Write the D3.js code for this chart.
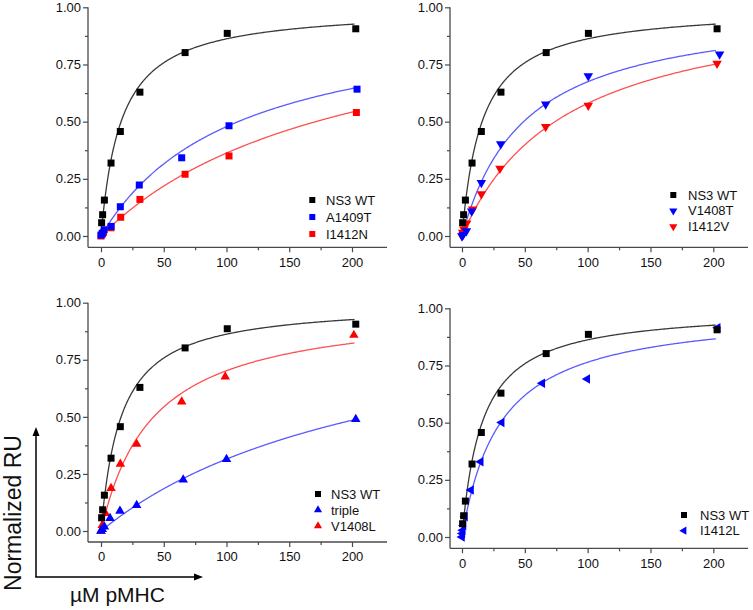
<!DOCTYPE html>
<html>
<head>
<meta charset="utf-8">
<script src="https://cdn.jsdelivr.net/npm/d3@7"></script>
<style>
  html, body { margin: 0; padding: 0; background: #fff; }
  svg { display: block; font-family: "Liberation Sans", Arial, Helvetica, sans-serif; }
</style>
</head>
<body>
<svg id="chart" width="753" height="610"></svg>
<script>
// ---------------- data ----------------
const xTicks = [0, 50, 100, 150, 200];
const xMinorTicks = [25, 75, 125, 175];
const yTicks = [0, 0.25, 0.5, 0.75, 1.0];
const yMinorTicks = [0.125, 0.375, 0.625, 0.875];

const wtX = [0.5, 1.3, 2.7, 8, 15.4, 31, 67, 100.6, 203];
const wtY = [0.058, 0.093, 0.157, 0.319, 0.457, 0.629, 0.802, 0.886, 0.906];

const a1409tX = [0, 1, 2.5, 8, 15.4, 30.5, 64.3, 102, 204];
const a1409tY = [0.004, 0.012, 0.027, 0.042, 0.128, 0.223, 0.342, 0.482, 0.642];

const i1412nX = [0, 1, 2, 8, 15.7, 31, 67, 102, 203.5];
const i1412nY = [0, 0.008, 0.016, 0.036, 0.082, 0.16, 0.27, 0.35, 0.54];

const v1408tX = [0, 1, 3.5, 7.7, 15.4, 30.8, 66.6, 100.5, 205];
const v1408tY = [0, 0.006, 0.022, 0.108, 0.233, 0.402, 0.576, 0.70, 0.795];

const i1412vX = [0, 0.5, 1.5, 3.7, 8.5, 15.4, 30.2, 66.6, 100.5, 203];
const i1412vY = [0, 0.015, 0.03, 0.056, 0.117, 0.184, 0.295, 0.478, 0.571, 0.754];

const tripleX = [0, 1, 2.7, 7.2, 15.1, 28.4, 65.5, 100, 203];
const tripleY = [0, 0.008, 0.019, 0.056, 0.088, 0.113, 0.224, 0.314, 0.489];

const v1408lX = [0, 1, 3.5, 8, 15.4, 28.4, 64.3, 99, 201.5];
const v1408lY = [0, 0.025, 0.078, 0.187, 0.293, 0.381, 0.566, 0.676, 0.858];

const i1412lX = [0, 0.3, 0.6, 1.2, 2.4, 7.2, 14.9, 31.6, 63.9, 99.7, 203.5];
const i1412lY = [0, 0.015, 0.03, 0.05, 0.089, 0.206, 0.329, 0.501, 0.672, 0.691, 0.915];

// one-site binding fits: [Bmax, Kd]
const wtFit = [1.0, 16];
const a1409tFit = [0.99, 107];
const i1412nFit = [1.07, 195];
const v1408tFit = [1.014, 50.4];
const i1412vFit = [1.061, 83];
const tripleFit = [1.055, 235];
const v1408lFit = [0.992, 41.3];
const i1412lFit = [0.998, 30.6];
const fitRange = [0, 202];

const xAxisTitle = "µM pMHC";
const yAxisTitle = "Normalized RU";

// ---------------- styles / layout ----------------
const COL = {
  black: { pt: "#000000", line: "#3a3a3a" },
  blue:  { pt: "#0000ff", line: "#5a5aff" },
  red:   { pt: "#ff0000", line: "#ff5050" }
};

function S(name, xs, ys, fit, color, shape) { return { name, xs, ys, fit, color, shape }; }

const panels = [
  { left: 88, x0: 101, x200: 352, right: 387, yTop: 7.3, y0: 236, bottom: 247.3,
    legend: { mx: 312.3, my: 200, dy: 17, tx: 326 },
    series: [S("NS3 WT", wtX, wtY, wtFit, "black", "square"),
             S("A1409T", a1409tX, a1409tY, a1409tFit, "blue", "square"),
             S("I1412N", i1412nX, i1412nY, i1412nFit, "red", "square")] },
  { left: 450, x0: 462, x200: 713.3, right: 748, yTop: 7.3, y0: 236, bottom: 247.3,
    legend: { mx: 673.3, my: 195, dy: 15.8, tx: 688 },
    series: [S("NS3 WT", wtX, wtY, wtFit, "black", "square"),
             S("V1408T", v1408tX, v1408tY, v1408tFit, "blue", "down"),
             S("I1412V", i1412vX, i1412vY, i1412vFit, "red", "down")] },
  { left: 88, x0: 101, x200: 352, right: 387, yTop: 302.7, y0: 531, bottom: 542,
    legend: { mx: 318, my: 494, dy: 16, tx: 331 },
    series: [S("NS3 WT", wtX, wtY, wtFit, "black", "square"),
             S("triple", tripleX, tripleY, tripleFit, "blue", "up"),
             S("V1408L", v1408lX, v1408lY, v1408lFit, "red", "up")] },
  { left: 450, x0: 462, x200: 713.3, right: 748, yTop: 308.3, y0: 537, bottom: 548.3,
    legend: { mx: 684, my: 515, dy: 15.7, tx: 700 },
    series: [S("NS3 WT", wtX, wtY, wtFit, "black", "square"),
             S("I1412L", i1412lX, i1412lY, i1412lFit, "blue", "left")] }
];

const svg = d3.select("#chart");
const AX = "#4a4a4a";

function markerPath(shape, r) {
  if (shape === "square") return d3.symbol(d3.symbolSquare, r * r)();
  return d3.symbol(d3.symbolTriangle, r * r * 0.8)();
}
function markerRot(shape) {
  return shape === "down" ? 180 : shape === "left" ? -90 : 0;
}

panels.forEach(p => {
  const g = svg.append("g");
  const x = d3.scaleLinear().domain([0, 200]).range([p.x0, p.x200]);
  const y = d3.scaleLinear().domain([0, 1]).range([p.y0, p.yTop]);

  // axis lines
  g.append("line").attr("x1", p.left).attr("x2", p.left).attr("y1", y(1)).attr("y2", p.bottom)
    .attr("stroke", AX).attr("stroke-width", 1.3);
  g.append("line").attr("x1", p.left).attr("x2", p.right).attr("y1", p.bottom).attr("y2", p.bottom)
    .attr("stroke", AX).attr("stroke-width", 1.3);

  // x axis
  const xa = g.append("g").attr("transform", `translate(0,${p.bottom})`)
    .call(d3.axisBottom(x).tickValues(xTicks).tickSize(5).tickSizeOuter(0).tickFormat(d3.format("d")));
  xa.select(".domain").remove();
  xa.selectAll("line").attr("stroke", AX).attr("stroke-width", 1.2);
  xa.selectAll("text").attr("fill", "#111").attr("font-size", 13).attr("y", 10).attr("dy", "0.71em")
    .attr("font-family", '"Liberation Sans", Arial, sans-serif');
  const xm = g.append("g").attr("transform", `translate(0,${p.bottom})`)
    .call(d3.axisBottom(x).tickValues(xMinorTicks).tickSize(3).tickSizeOuter(0).tickFormat(""));
  xm.select(".domain").remove();
  xm.selectAll("line").attr("stroke", AX).attr("stroke-width", 1.2);

  // y axis
  const ya = g.append("g").attr("transform", `translate(${p.left},0)`)
    .call(d3.axisLeft(y).tickValues(yTicks).tickSize(5).tickSizeOuter(0).tickFormat(d3.format(".2f")));
  ya.select(".domain").remove();
  ya.selectAll("line").attr("stroke", AX).attr("stroke-width", 1.2);
  ya.selectAll("text").attr("fill", "#111").attr("font-size", 13).attr("x", -7)
    .attr("font-family", '"Liberation Sans", Arial, sans-serif');
  const ym = g.append("g").attr("transform", `translate(${p.left},0)`)
    .call(d3.axisLeft(y).tickValues(yMinorTicks).tickSize(3).tickSizeOuter(0).tickFormat(""));
  ym.select(".domain").remove();
  ym.selectAll("line").attr("stroke", AX).attr("stroke-width", 1.2);

  // fit curves
  const line = d3.line().x(d => x(d[0])).y(d => y(d[1])).curve(d3.curveLinear);
  p.series.forEach(s => {
    const [bmax, kd] = s.fit;
    const pts = d3.range(0, 401).map(i => {
      const xv = fitRange[0] + (fitRange[1] - fitRange[0]) * Math.pow(i / 400, 2);
      return [xv, bmax * xv / (kd + xv)];
    });
    g.append("path").attr("d", line(pts)).attr("fill", "none")
      .attr("stroke", COL[s.color].line).attr("stroke-width", 1.3);
  });

  // points (WT drawn on top)
  p.series.slice().reverse().forEach(s => {
    g.append("g").selectAll("path").data(s.xs.map((v, i) => [v, s.ys[i]])).join("path")
      .attr("d", markerPath(s.shape, 7))
      .attr("transform", d => `translate(${x(d[0])},${y(d[1])}) rotate(${markerRot(s.shape)})`)
      .attr("fill", COL[s.color].pt);
  });

  // legend
  p.series.forEach((s, i) => {
    const ly = p.legend.my + i * p.legend.dy;
    g.append("path").attr("d", markerPath(s.shape, 6))
      .attr("transform", `translate(${p.legend.mx},${ly}) rotate(${markerRot(s.shape)})`)
      .attr("fill", COL[s.color].pt);
    g.append("text").attr("x", p.legend.tx).attr("y", ly).attr("dy", "0.36em")
      .attr("font-size", 13).attr("fill", "#111").text(s.name);
  });
});

// global axis arrows
const ag = svg.append("g");
ag.append("line").attr("x1", 36).attr("y1", 577).attr("x2", 36).attr("y2", 434)
  .attr("stroke", "#000").attr("stroke-width", 1.5);
ag.append("path").attr("d", "M36,427 L32.5,436 L39.5,436 Z").attr("fill", "#000");
ag.append("line").attr("x1", 35.25).attr("y1", 577).attr("x2", 196).attr("y2", 577)
  .attr("stroke", "#000").attr("stroke-width", 1.5);
ag.append("path").attr("d", "M203,577 L194,573.5 L194,580.5 Z").attr("fill", "#000");

svg.append("text").attr("transform", "translate(20.5,513) rotate(-90)")
  .attr("text-anchor", "middle").attr("font-size", 23).attr("fill", "#111").text(yAxisTitle);
svg.append("text").attr("x", 70).attr("y", 601.5)
  .attr("font-size", 21).attr("fill", "#111").text(xAxisTitle);
</script>
</body>
</html>
